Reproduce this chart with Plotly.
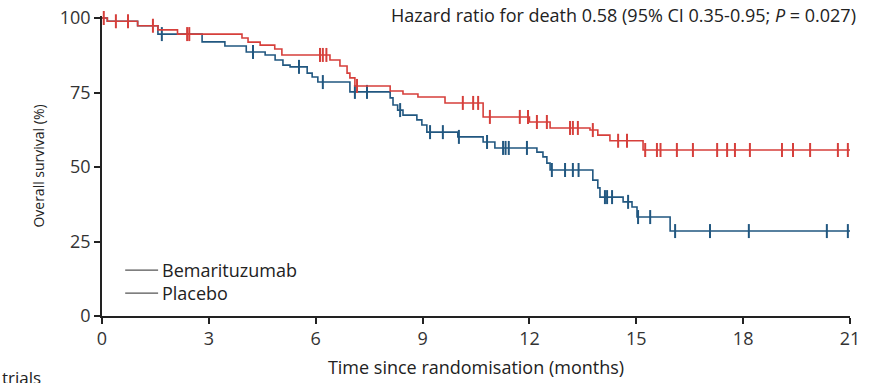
import bisect
import plotly.graph_objects as go

# Kaplan-Meier step points (months, % surviving) for each arm
bema_times = [0, 0.15, 1.0, 1.57, 2.12, 3.93, 4.10, 4.44, 4.85, 5.05, 6.40, 6.68, 6.88,
              6.96, 7.10, 8.09, 8.45, 8.87, 9.63, 10.70, 12.0, 12.58, 13.70, 13.92, 14.26, 15.19]
bema_surv = [100, 98.9, 97.4, 96.0, 94.6, 93.3, 91.9, 90.9, 89.6, 87.6, 85.9, 83.9, 81.5,
             79.9, 77.2, 75.5, 74.5, 73.5, 71.5, 66.8, 65.1, 63.1, 62.4, 60.7, 58.8, 55.7]
bema_censored = [0.05, 0.39, 0.73, 1.43, 2.39, 2.45, 6.12, 6.20, 6.30, 7.16, 10.13, 10.42,
                 10.56, 10.89, 11.73, 11.96, 12.21, 12.49, 13.14, 13.22, 13.36, 13.78, 14.49,
                 14.74, 15.25, 15.58, 15.68, 16.14, 16.59, 17.27, 17.55, 17.77, 18.19, 19.09,
                 19.40, 19.88, 20.66, 20.94]
bema_followup_end = 21.05

plac_times = [0, 0.15, 1.0, 1.57, 2.81, 3.45, 4.05, 4.58, 4.86, 5.08, 5.28, 5.76, 5.90, 6.06,
              6.96, 8.09, 8.17, 8.30, 8.45, 8.84, 8.98, 9.12, 9.99, 10.70, 11.03, 12.21, 12.38,
              12.49, 12.58, 13.78, 13.92, 13.98, 14.63, 14.88, 15.02, 15.95]
plac_surv = [100, 98.9, 97.4, 94.6, 92.0, 90.6, 88.6, 87.6, 85.9, 84.2, 83.6, 81.5, 80.2, 78.5,
             75.2, 73.2, 70.8, 69.1, 67.4, 65.8, 64.1, 61.7, 60.1, 58.4, 56.4, 55.0, 53.4,
             51.3, 49.0, 45.6, 43.0, 39.9, 38.3, 36.6, 33.2, 28.5]
plac_censored = [1.68, 4.24, 5.53, 6.20, 7.10, 7.44, 8.37, 9.21, 9.57, 10.02, 10.81, 11.26,
                 11.33, 11.42, 11.93, 12.63, 13.0, 13.22, 13.38, 14.12, 14.18, 14.32, 14.77,
                 15.05, 15.39, 16.09, 17.07, 18.16, 20.35, 20.94]
plac_followup_end = 21.05

x_ticks = [0, 3, 6, 9, 12, 15, 18, 21]
y_ticks = [0, 25, 50, 75, 100]

arm_names = ["Bemarituzumab", "Placebo"]
arm_colors = ["#d63f3b", "#215780"]

FONT = "Open Sans"


def surv_at(times, surv, t):
    i = bisect.bisect_right(times, t) - 1
    return surv[max(i, 0)]


fig = go.Figure()

arms = [
    (bema_times, bema_surv, bema_censored, bema_followup_end),
    (plac_times, plac_surv, plac_censored, plac_followup_end),
]
# placebo drawn first so the bemarituzumab curve sits on top where they overlap
for idx in [1, 0]:
    times, surv, cens, end = arms[idx]
    color = arm_colors[idx]
    fig.add_trace(go.Scatter(
        x=times + [end], y=surv + [surv[-1]],
        mode="lines", line=dict(color=color, width=1.6, shape="hv"),
        showlegend=False, hoverinfo="skip",
    ))
    fig.add_trace(go.Scatter(
        x=cens, y=[surv_at(times, surv, t) for t in cens],
        mode="markers",
        marker=dict(symbol="line-ns", size=10, line=dict(color=color, width=2)),
        showlegend=False, hoverinfo="skip", cliponaxis=False,
    ))

fig.update_xaxes(
    range=[0, 21], tickvals=x_ticks, ticks="outside", ticklen=6, tickwidth=1.5,
    tickcolor="#222", showline=True, linecolor="#222", linewidth=1.6,
    showgrid=False, zeroline=False, automargin=False,
    tickfont=dict(family=FONT, size=18, color="#333"),
    title=dict(text="Time since randomisation (months)", standoff=12,
               font=dict(family=FONT, size=18, color="#222")),
)
fig.update_yaxes(
    range=[0, 100.67], tickvals=y_ticks, ticks="outside", ticklen=6, tickwidth=1.5,
    tickcolor="#222", showline=True, linecolor="#222", linewidth=1.6,
    showgrid=False, zeroline=False, automargin=False,
    tickfont=dict(family=FONT, size=18, color="#333"),
    title=dict(text="Overall survival (%)", standoff=12,
               font=dict(family=FONT, size=14, color="#222")),
)

# hand-drawn legend in the lower-left of the plot
for i, name in enumerate(arm_names):
    ypos = 0.153 - i * 0.077
    fig.add_shape(type="line", xref="paper", yref="paper",
                  x0=0.031, x1=0.075, y0=ypos, y1=ypos,
                  line=dict(color="#555", width=1.3))
    fig.add_annotation(xref="paper", yref="paper", x=0.078, y=ypos,
                       text=name, showarrow=False, xanchor="left", yanchor="middle",
                       font=dict(family=FONT, size=18, color="#222"))

fig.add_annotation(
    xref="paper", yref="paper", x=1.011, y=1.005, xanchor="right", yanchor="middle",
    text="Hazard ratio for death 0.58 (95% CI 0.35-0.95; <i>P</i> = 0.027)",
    showarrow=False, font=dict(family=FONT, size=18, color="#222"),
)

fig.add_annotation(
    xref="paper", yref="paper", x=-0.137, y=-0.16, xanchor="left", yanchor="top",
    text="trials", showarrow=False, font=dict(family=FONT, size=17, color="#222"),
)

fig.update_layout(
    width=884, height=383,
    margin=dict(l=102, r=34, t=16, b=67),
    paper_bgcolor="white", plot_bgcolor="white",
)

fig.write_html("out.html")
